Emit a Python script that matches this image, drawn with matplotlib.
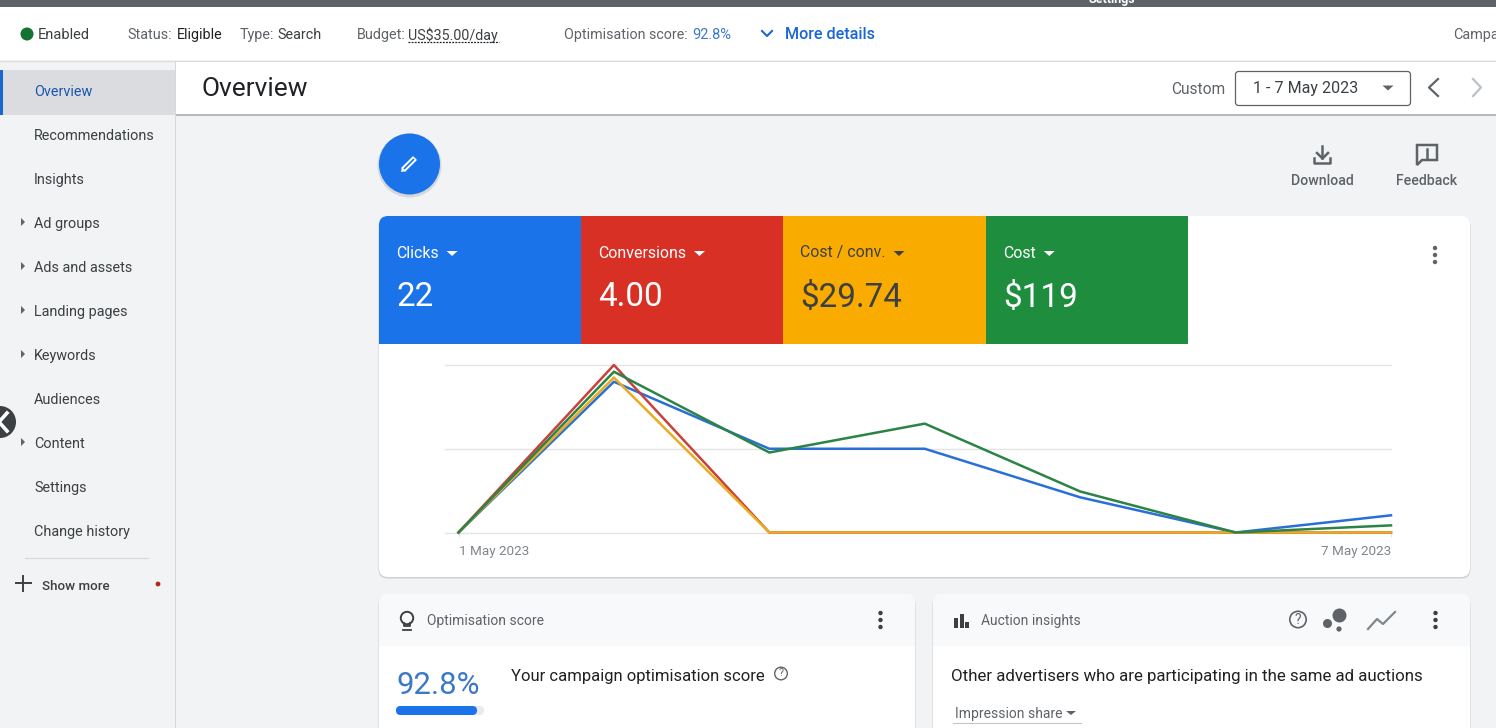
# Campaign overview page with the four-metric line chart
from matplotlib import pyplot as plt
from matplotlib.patches import Circle, FancyBboxPatch, Polygon, Rectangle

plt.rcParams['font.family'] = ['Roboto', 'DejaVu Sans']

# chart data, in grid units (the chart shows no y labels)
DAYS = [1, 2, 3, 4, 5, 6, 7]
DAY_LABELS = ['1 May 2023', '7 May 2023']
CLICKS = [0, 1.80, 1.00, 1.00, 0.42, 0, 0.205]
CONVERSIONS = [0, 2.00, 0, 0, 0, 0, 0]
COST_CONV = [0, 1.85, 0, 0, 0, 0, 0]
COST = [0, 1.92, 0.955, 1.30, 0.49, 0, 0.085]

METRIC_NAMES = ['Clicks', 'Conversions', 'Cost / conv.', 'Cost']
METRIC_VALUES = ['22', '4.00', '$29.74', '$119']
NAV_ITEMS = ['Overview', 'Recommendations', 'Insights', 'Ad groups', 'Ads and assets',
             'Landing pages', 'Keywords', 'Audiences', 'Content', 'Settings', 'Change history']
NAV_ARROWS = ['Ad groups', 'Ads and assets', 'Landing pages', 'Keywords', 'Content']

BLUE = '#1a73e8'
RED = '#d93025'
YELLOW = '#f9ab00'
GREEN = '#1e8e3e'
GREY = '#5f6368'
DARK = '#3c4043'
PAGE = '#f1f3f4'

W, H = 1496, 728
fig = plt.figure(figsize=(W / 100, H / 100), dpi=100, facecolor=PAGE)
ui = fig.add_axes([0, 0, 1, 1])
ui.set_xlim(0, W)
ui.set_ylim(H, 0)
ui.axis('off')


def txt(x, y, s, size=10, color=DARK, ha='left', **kw):
    return ui.text(x, y + 1, s, fontsize=size, color=color, ha=ha, va='center', **kw)


def rect(x0, y0, x1, y1, color, z=1):
    return ui.add_patch(Rectangle((x0, y0), x1 - x0, y1 - y0, fc=color, ec='none', zorder=z))


def card(x0, y0, x1, y1, z=1):
    ui.add_patch(FancyBboxPatch((x0 - 0.5, y0 + 1.5), x1 - x0 + 1, y1 - y0, boxstyle='round,pad=0,rounding_size=9',
                                fc='#cfd1d4', ec='none', zorder=z))
    return ui.add_patch(FancyBboxPatch((x0, y0), x1 - x0, y1 - y0, boxstyle='round,pad=0,rounding_size=9',
                                       fc='white', ec='none', zorder=z + 0.1))


def dots(x, y, color=DARK, r=2.2):
    for dy in (-7, 0, 7):
        ui.add_patch(Circle((x, y + dy), r, fc=color, ec='none', zorder=5))


def tri(x, y, color, w=5.5, h=5):
    ui.add_patch(Polygon([(x - w, y - h / 2), (x + w, y - h / 2), (x, y + h / 2)], fc=color, ec='none', zorder=5))


# top bars
rect(0, 0, W, 7, GREY, 3)
ui.text(1112, 0, 'Settings', fontsize=9, color='white', ha='center', va='center', weight='bold', zorder=4)
rect(0, 7, W, 60, 'white', 2)
ui.plot([0, W], [60.5, 60.5], color='#dadce0', lw=0.8, zorder=3)
ui.add_patch(Circle((27, 34), 6.5, fc='#137333', ec='none', zorder=4))
txt(38, 34, 'Enabled', 10.5, zorder=4)
txt(127, 34, 'Status:', 10.4, GREY, zorder=4)
txt(176.5, 34, 'Eligible', 10.4, '#202124', zorder=4)
txt(240, 34, 'Type:', 10.4, GREY, zorder=4)
txt(277.5, 34, 'Search', 10.4, DARK, zorder=4)
txt(356.5, 34, 'Budget:', 10.4, GREY, zorder=4)
txt(408.5, 34, 'US$35.00/day', 10.3, DARK, zorder=4)
ui.plot([408, 499], [42, 42], color='#202124', lw=0.9, ls=(0, (1.5, 1)), zorder=4)
txt(564, 34, 'Optimisation score:', 10.3, GREY, zorder=4)
txt(692.5, 34, '92.8%', 10.5, '#3b78c9', zorder=4)
ui.plot([762, 767, 772], [31, 36, 31], color='#1967d2', lw=1.5, zorder=4)
txt(785.5, 33.5, 'More details', 11.6, '#1967d2', weight='medium', zorder=4)
txt(1453, 34, 'Campaign', 10.4, GREY, zorder=4)

# page header
rect(176, 61, W, 114, 'white', 2)
ui.plot([176, W], [115, 115], color='#b5b7ba', lw=1.4, zorder=2)
txt(202, 88.5, 'Overview', 18.9, '#202124', zorder=4)
txt(1171, 88.5, 'Custom', 11.2, GREY, zorder=4)
ui.add_patch(FancyBboxPatch((1235.5, 71.5), 175, 34, boxstyle='round,pad=0,rounding_size=3',
                            fc='white', ec=GREY, lw=0.9, zorder=4))
txt(1253.5, 88, '1 - 7 May 2023', 11.5, DARK, zorder=5)
tri(1388, 88, GREY)
ui.plot([1438, 1429, 1438], [79, 87.5, 96], color=GREY, lw=1.6, zorder=5)
ui.plot([1473, 1481, 1473], [79, 87.5, 96], color='#bdc1c6', lw=1.6, zorder=5)

# side navigation
rect(175, 61, 176, H, '#d5d7da', 2)
rect(3, 70, 175, 115, '#dadce0', 2)
rect(0, 70, 3, 115, '#1967d2', 3)
for i, item in enumerate(NAV_ITEMS):
    y = 91 + 44 * i
    txt(34, y, item, 10.4, '#1a55ad' if i == 0 else DARK, zorder=4)
    if item in NAV_ARROWS:
        ui.add_patch(Polygon([(21, y - 5), (25, y - 1), (21, y + 3)], fc=GREY, ec='none', zorder=4))
ui.plot([25, 148], [558, 558], color='#d5d7da', lw=0.8, zorder=3)
ui.plot([16, 31], [583, 583], color=DARK, lw=1.4, zorder=4)
ui.plot([23.5, 23.5], [575.5, 590.5], color=DARK, lw=1.4, zorder=4)
txt(42.5, 585, 'Show more', 9.6, DARK, weight='medium', zorder=4)
ui.add_patch(Circle((158, 584), 2.4, fc='#b3261e', ec='none', zorder=4))
ui.add_patch(Circle((0, 422), 16, fc=DARK, ec='none', zorder=6))
ui.plot([7, -1, 7], [413, 422, 431], color='white', lw=2.6, zorder=7)

# edit button and page actions
ui.add_patch(Circle((409.5, 165.5), 32, fc='#d5d7da', ec='none', zorder=2))
ui.add_patch(Circle((409.5, 164), 30.5, fc=BLUE, ec='none', zorder=3))
ui.plot([403, 415], [170, 158], color='white', lw=4, solid_capstyle='butt', zorder=4)
ui.plot([404, 414], [169, 159], color=BLUE, lw=1.2, solid_capstyle='butt', zorder=4.5)
ui.add_patch(Polygon([(401, 172), (402, 167), (406, 171)], fc='white', ec='none', zorder=4))

ui.plot([1322.5, 1322.5], [146, 158], color=GREY, lw=1.8, zorder=4)
ui.plot([1317, 1322.5, 1328], [153, 158.5, 153], color=GREY, lw=1.8, zorder=4)
ui.plot([1314.5, 1314.5, 1330.5, 1330.5], [158, 162.5, 162.5, 158], color=GREY, lw=1.8, zorder=4)
txt(1322, 180, 'Download', 10.2, GREY, ha='center', weight='medium', zorder=4)
ui.add_patch(Polygon([(1417, 145), (1437, 145), (1437, 160), (1422, 160), (1417, 165)],
                     fc='none', ec=GREY, lw=1.8, zorder=4))
ui.plot([1427, 1427], [148.5, 154], color=GREY, lw=1.8, zorder=4)
ui.plot([1427, 1427], [155.5, 157.5], color=GREY, lw=1.8, zorder=4)
txt(1427, 180, 'Feedback', 10.2, GREY, ha='center', weight='medium', zorder=4)

# main card with metric tiles
main = card(379, 216, 1470, 577)
tile_edges = [379, 581, 783, 986, 1188]
tile_colors = [BLUE, RED, YELLOW, GREEN]
for i, name in enumerate(METRIC_NAMES):
    tile = rect(tile_edges[i], 216, tile_edges[i + 1], 344, tile_colors[i], 2)
    tile.set_clip_path(main)
    fg = DARK if tile_colors[i] == YELLOW else 'white'
    x = tile_edges[i] + 17.5
    label = txt(x, 252, name, 11.4, fg, zorder=4)
    txt(x, 296.5, METRIC_VALUES[i], 23.9, fg, zorder=4)
    fig.canvas.draw()
    box = label.get_window_extent()
    tri(box.x1 + 13, 253.5, fg)
dots(1435, 255, GREY)

# lower cards
for x0, x1, title in [(379, 915, 'Optimisation score'), (933, 1470, 'Auction insights')]:
    low = card(x0, 594, x1, 760)
    head = rect(x0, 594, x1, 646, '#f8f9fa', 2)
    head.set_clip_path(low)
    txt(x0 + 48, 620, title, 10, GREY, zorder=4)
    dots(x1 - 34.5, 620, DARK)

# bulb icon
ui.add_patch(Circle((407, 618), 6.2, fc='none', ec=DARK, lw=1.4, zorder=4))
rect(403, 622, 411, 627, 'white', 3.5).set_facecolor('#f8f9fa')
ui.plot([404, 404, 410, 410], [622.5, 626, 626, 622.5], color=DARK, lw=1.3, zorder=4)
ui.plot([403, 411], [629.5, 629.5], color=DARK, lw=1.3, zorder=4)
txt(396.5, 684, '92.8%', 22.4, '#3b78c9', zorder=4)
ui.add_patch(FancyBboxPatch((396, 706), 88, 9, boxstyle='round,pad=0,rounding_size=4.5',
                            fc='#e8eaed', ec='none', zorder=4))
ui.add_patch(FancyBboxPatch((396, 706), 81, 9, boxstyle='round,pad=0,rounding_size=4.5',
                            fc=BLUE, ec='none', zorder=5))
txt(511, 675, 'Your campaign optimisation score', 11.95, '#202124', zorder=4)
ui.add_patch(Circle((781, 673.5), 6.3, fc='none', ec=GREY, lw=1, zorder=4))
txt(781, 672.5, '?', 7.5, GREY, ha='center', zorder=5)

for x, y0 in [(956.5, 618), (962, 613.5), (967.5, 622)]:
    rect(x - 2, y0, x + 2, 628, DARK, 4)
ui.add_patch(Circle((1298, 619.5), 8.2, fc='none', ec=GREY, lw=1.2, zorder=4))
txt(1298, 618.5, '?', 10, GREY, ha='center', zorder=5)
ui.add_patch(Circle((1339.5, 615.5), 7, fc=GREY, ec='none', zorder=4))
ui.add_patch(Circle((1327.5, 623.5), 4.5, fc=GREY, ec='none', zorder=4))
ui.add_patch(Circle((1339, 629), 2.6, fc=GREY, ec='none', zorder=4))
ui.plot([1368, 1377, 1383, 1395], [629, 619, 624, 612], color='#80868b', lw=1.6, zorder=4)
txt(951, 675, 'Other advertisers who are participating in the same ad auctions', 12.2, '#202124', zorder=4)
txt(955, 713, 'Impression share', 10, GREY, zorder=4)
tri(1071, 713, GREY, 5, 4)
ui.plot([953, 1081], [722.5, 722.5], color='#c4c7ca', lw=0.8, zorder=4)

# the line chart itself
ax = fig.add_axes([445 / W, 1 - 532.5 / H, (1391 - 445) / W, (532.5 - 365) / H], zorder=5)
ax.patch.set_alpha(0)
ax.plot(DAYS, CLICKS, color='#2a6fd6', lw=1.8, clip_on=False, zorder=3)
ax.plot(DAYS, CONVERSIONS, color='#c8413b', lw=1.8, clip_on=False, zorder=4)
ax.plot(DAYS, COST_CONV, color='#e9ab21', lw=1.8, clip_on=False, zorder=5)
ax.plot(DAYS, COST, color='#2b8446', lw=1.8, clip_on=False, zorder=6)
ax.set_xlim(1 - 13.5 / 155.4, 7)
ax.set_ylim(0, 2)
ax.set_yticks([0, 1, 2])
ax.set_yticklabels([])
ax.grid(True, axis='y', color='#e3e4e6', lw=1, clip_on=False)
ax.set_axisbelow(True)
ax.tick_params(axis='y', length=0)
ax.set_xticks([DAYS[0], DAYS[-1]])
ax.set_xticklabels(DAY_LABELS, fontsize=9.7, color='#80868b')
ax.tick_params(axis='x', length=3, width=0.7, color='#e3e4e6', pad=6)
ax.get_xticklabels()[0].set_ha('left')
ax.get_xticklabels()[1].set_ha('right')
for s in ax.spines.values():
    s.set_visible(False)

fig.savefig('out.png', dpi=100)
